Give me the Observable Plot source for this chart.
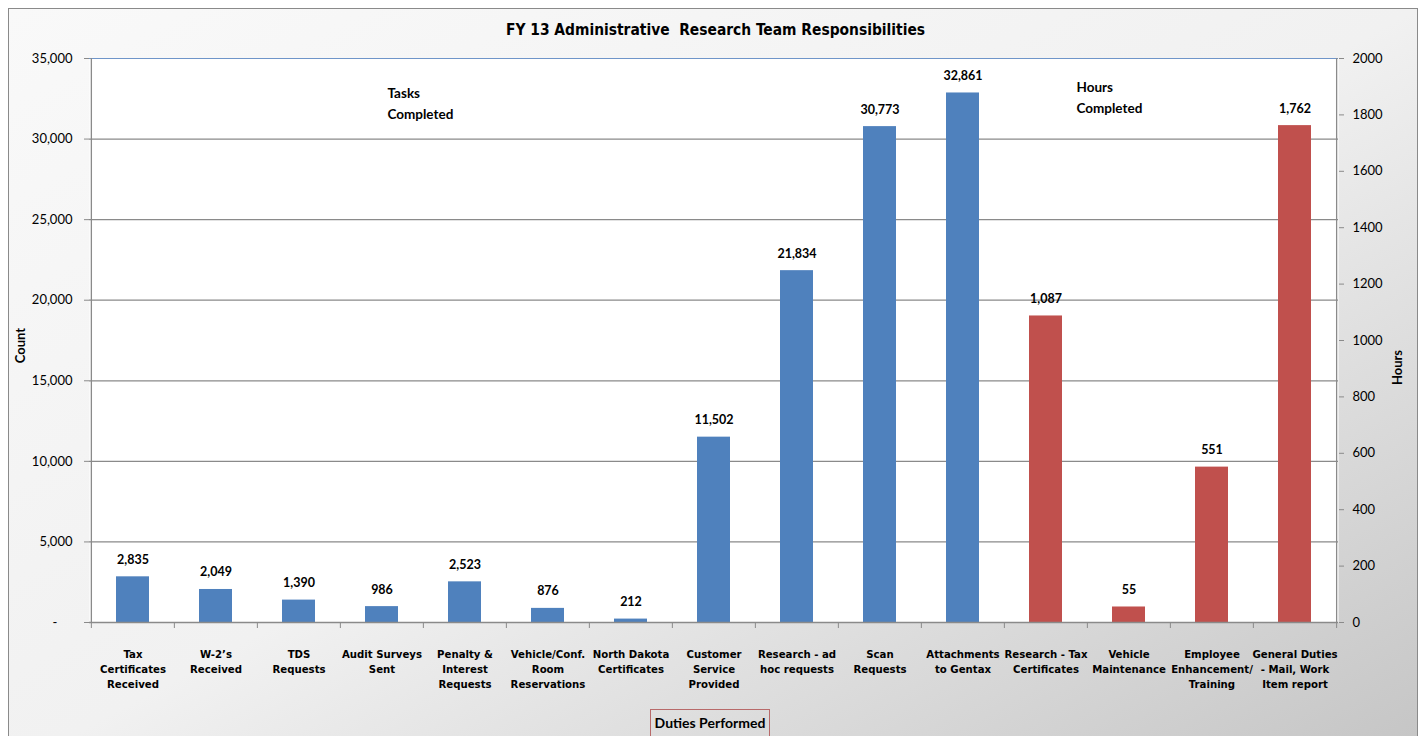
<!DOCTYPE html>
<html>
<head>
<meta charset="utf-8">
<script src="https://cdn.jsdelivr.net/npm/d3@7"></script>
<script src="https://cdn.jsdelivr.net/npm/@observablehq/plot@0.6"></script>
<style>
html, body { margin: 0; padding: 0; background: #fff; }
#wrap { position: relative; width: 1421px; height: 736px; overflow: hidden; }
#bg { position: absolute; left: 8px; top: 8px; width: 1408px; height: 760px; border: 1px solid #8a8a8a;
      background: linear-gradient(to bottom right, #f9f9f9 0%, #f1f1f1 50%, #c4c4c4 100%); }
#chart { position: absolute; left: 0; top: 0; }
#title { position: absolute; left: 0; top: 21px; width: 1431px; text-align: center;
         font: bold 15.4px "Liberation Sans Narrow", "Arial Narrow", "DejaVu Sans Condensed", sans-serif; color: #000; }
#xlabel { position: absolute; left: 650px; top: 709px; width: 120px; height: 34px; border: 1.5px solid #b86a6a;
          box-sizing: border-box; text-align: center;
          font: bold 14px Lato, "Open Sans", sans-serif; line-height: 25px; color: #000; }
</style>
</head>
<body>
<div id="wrap">
  <div id="bg"></div>
  <div id="chart"></div>
  <div id="title">FY 13 Administrative&nbsp; Research Team Responsibilities</div>
  <div id="xlabel">Duties Performed</div>
</div>
<script>
// ---- data ----
const categories = [
  "Tax\nCertificates\nReceived",
  "W-2\u2019s\nReceived",
  "TDS\nRequests",
  "Audit Surveys\nSent",
  "Penalty &\nInterest\nRequests",
  "Vehicle/Conf.\nRoom\nReservations",
  "North Dakota\nCertificates",
  "Customer\nService\nProvided",
  "Research - ad\nhoc requests",
  "Scan\nRequests",
  "Attachments\nto Gentax",
  "Research - Tax\nCertificates",
  "Vehicle\nMaintenance",
  "Employee\nEnhancement/\nTraining",
  "General Duties\n- Mail, Work\nItem report"
];
const values = [2835, 2049, 1390, 986, 2523, 876, 212, 11502, 21834, 30773, 32861, 1087, 55, 551, 1762];
const series = ["Tasks","Tasks","Tasks","Tasks","Tasks","Tasks","Tasks","Tasks","Tasks","Tasks","Tasks",
                "Hours","Hours","Hours","Hours"];
const countTicks = [0, 5000, 10000, 15000, 20000, 25000, 30000, 35000];
const hoursTicks = [0, 200, 400, 600, 800, 1000, 1200, 1400, 1600, 1800, 2000];
const countMax = 35000;
const hoursMax = 2000;

// ---- derived ----
const k = countMax / hoursMax;
const data = categories.map((c, i) => ({
  cat: c, value: values[i], series: series[i],
  y: series[i] === "Hours" ? values[i] * k : values[i]
}));

const W = 1421, H = 736, mL = 89, mR = 83, mT = 58, mB = 114;
const step = (W - mL - mR) / categories.length;
const numFont = "Lato, 'Open Sans', sans-serif";
const narrowFont = "'Liberation Sans Narrow', 'Arial Narrow', 'DejaVu Sans Condensed', sans-serif";
const gridColor = "#8a8a8a";

const chart = Plot.plot({
  width: W, height: H,
  marginLeft: mL, marginRight: mR, marginTop: mT, marginBottom: mB,
  style: { background: "transparent", color: "#000" },
  x: { type: "band", domain: categories, paddingInner: 0.6, paddingOuter: 0.3 },
  y: { domain: [0, countMax] },
  color: { domain: ["Tasks", "Hours"], range: ["#4F81BD", "#C0504D"] },
  marks: [
    Plot.frame({ fill: "white", stroke: null }),
    Plot.gridY(countTicks.slice(1, -1), { stroke: gridColor, strokeOpacity: 1, strokeWidth: 1.3 }),
    Plot.ruleY([countMax], { stroke: "#6f95c9", strokeWidth: 1.2 }),
    Plot.barY(data, { x: "cat", y: "y", fill: "series" }),
    Plot.ruleY([0], { stroke: gridColor, strokeWidth: 1.3 }),
    Plot.ruleX([categories[0]], { dx: -step / 2, stroke: gridColor, strokeWidth: 1.3 }),
    Plot.ruleX([categories[categories.length - 1]], { dx: step / 2, stroke: gridColor, strokeWidth: 1.3 }),
    Plot.text(data, {
      x: "cat", y: "y", text: d => d3.format(",")(d.value), dy: -17,
      fontWeight: "bold", fontSize: 12.5, fontFamily: numFont
    }),
    // left axis (Count)
    Plot.axisY({
      ticks: countTicks, tickSize: 5, tickPadding: 12, label: null, stroke: gridColor,
      tickFormat: d => d === 0 ? "-\u2007\u2007" : d3.format(",")(d),
      fontSize: 13, fontFamily: numFont
    }),
    // right axis (Hours)
    Plot.axisY({
      anchor: "right", ticks: hoursTicks.map(h => h * k), tickSize: 5, tickPadding: 9, label: null,
      stroke: gridColor, tickFormat: d => String(Math.round(d / k)),
      fontSize: 13, fontFamily: numFont
    }),
    // category labels
    Plot.axisX({
      tickSize: 0, tickPadding: 25, label: null, fontSize: 11.3, fontWeight: "bold",
      fontFamily: narrowFont, lineHeight: 1.33
    }),
    // boundary tick marks
    Plot.axisX({ tickSize: 6, tickFormat: () => "", dx: -step / 2, label: null, stroke: gridColor }),
    Plot.axisX({ ticks: [categories[categories.length - 1]], tickSize: 6, tickFormat: () => "", dx: step / 2, label: null, stroke: gridColor }),
    // axis titles
    Plot.text(["Count"], { frameAnchor: "left", textAnchor: "middle", dx: -69, dy: 5, rotate: -90, fontWeight: "bold", fontSize: 13, fontFamily: numFont }),
    Plot.text(["Hours"], { frameAnchor: "right", textAnchor: "middle", dx: 59, dy: 27, rotate: -90, fontWeight: "bold", fontSize: 13, fontFamily: numFont }),
    // annotations
    Plot.text(["Tasks\nCompleted"], { frameAnchor: "top-left", dx: 298, dy: 24, textAnchor: "start", lineAnchor: "top",
      lineHeight: 1.6, fontWeight: "bold", fontSize: 13.5, fontFamily: numFont }),
    Plot.text(["Hours\nCompleted"], { frameAnchor: "top-left", dx: 987, dy: 18, textAnchor: "start", lineAnchor: "top",
      lineHeight: 1.6, fontWeight: "bold", fontSize: 13.5, fontFamily: numFont })
  ]
});
document.getElementById("chart").appendChild(chart);
</script>
</body>
</html>
